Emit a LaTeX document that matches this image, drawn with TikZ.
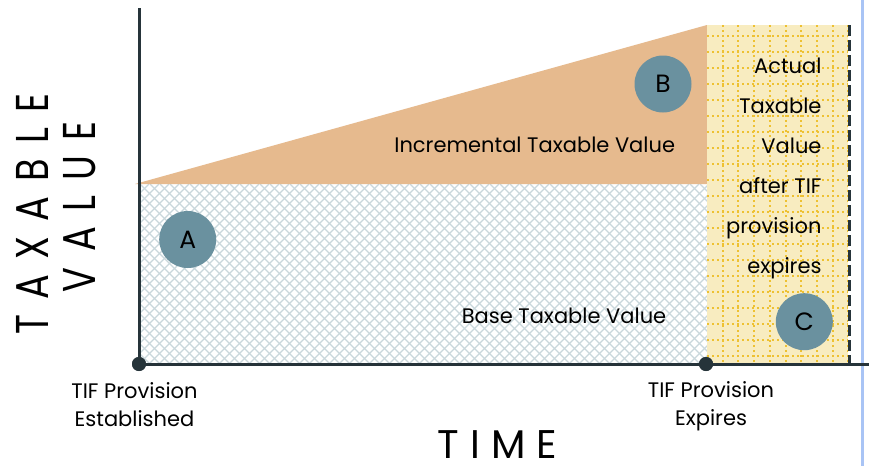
\documentclass[tikz,border=0pt]{standalone}
\usepackage{fontspec}
\setmainfont{Poppins}
\definecolor{axisc}{HTML}{26343A}
\definecolor{orng}{HTML}{E6BA8E}
\definecolor{ylw}{HTML}{F8ECC0}
\definecolor{ylwgrid}{HTML}{EEC132}
\definecolor{circ}{HTML}{6A919F}
\definecolor{hatchc}{HTML}{C9D7DC}
\definecolor{lblue}{HTML}{A9C4F5}
\tikzset{
  axisline/.style={draw=axisc, line width=3pt},
  enddot/.style={circle, fill=axisc, minimum size=14pt, inner sep=0pt},
  badge/.style={circle, fill=circ, minimum size=57pt, inner sep=0pt, font=\fontsize{25}{28}\selectfont},
  hatchline/.style={draw=hatchc, line width=1.3pt},
  gridline/.style={draw=ylwgrid, line width=2pt, dash pattern=on 2pt off 3pt},
  lbl/.style={inner sep=0pt, font=\fontsize{21}{24}\selectfont},
}
\begin{document}
\begin{tikzpicture}[x=1pt,y=-1pt]
\useasboundingbox (0,0) rectangle (871,466);
\fill[white] (0,0) rectangle (871,466);
% base region hatch
\begin{scope}
\clip (139,184) rectangle (707,364);
\foreach \s in {-50,-40,...,710} \draw[hatchline] (\s,184) -- ++(190,190);
\foreach \s in {139,149,...,900} \draw[hatchline] (\s,184) -- ++(-190,190);
\end{scope}
% incremental region
\fill[orng] (135,184) -- (707,25) -- (707,184) -- cycle;
% yellow region
\fill[ylw] (707,25) rectangle (848,364);
\begin{scope}
\clip (707,25) rectangle (848,364);
\foreach \k in {1,...,9} \draw[gridline] (707+15.7*\k,25) -- (707+15.7*\k,364);
\foreach \k in {0,...,20} \draw[gridline] (707,35.7+16*\k) -- (848,35.7+16*\k);
\end{scope}
% coordinates
\coordinate (ytop) at (139,8);
\coordinate (xend) at (869,364);
\coordinate (dtop) at (849.5,25);
\coordinate (dbot) at (849.5,364);
\coordinate (btop) at (862,0);
\coordinate (bbot) at (862,466);
% lines
\draw[lblue, line width=3pt] (btop) -- (bbot);
\draw[axisc, line width=3.5pt, dash pattern=on 11pt off 4pt] (dtop) -- (dbot);
\node[enddot] (o) at (139,364) {};
\node[enddot] (e) at (706,364) {};
\draw[axisline] (ytop) -- (o.center) -- (e.center) -- (xend);
\node[enddot] at (139,364) {};
\node[enddot] at (706,364) {};
% badges
\node[badge] (A) at (187.7,239.5) {A};
\node[badge] (B) at (663,84) {B};
\node[badge] (C) at (804.3,321.7) {C};
% labels
\node[lbl, anchor=base] (inc) at (534.7,152.3) {Incremental Taxable Value};
\node[lbl, anchor=base] (base) at (564,323.3) {Base Taxable Value};
\node[lbl, anchor=base] (est1) at (134.5,398.3) {TIF Provision};
\node[lbl, anchor=base] (est2) at (134.5,426.7) {Established};
\node[lbl, anchor=base] (exp1) at (711,397.3) {TIF Provision};
\node[lbl, anchor=base] (exp2) at (711,425) {Expires};
\node[lbl, anchor=base east] (r1) at (821.7,73.3) {Actual};
\node[lbl, anchor=base east] (r2) at (821.7,113.3) {Taxable};
\node[lbl, anchor=base east] (r3) at (821.7,153.3) {Value};
\node[lbl, anchor=base east] (r4) at (821.7,193.3) {after TIF};
\node[lbl, anchor=base east] (r5) at (821.7,233.3) {provision};
\node[lbl, anchor=base east] (r6) at (821.7,273.3) {expires};
% axis titles
\node[inner sep=0pt, text depth=0pt, anchor=base, font=\fontsize{40}{44}\selectfont] (time) at (497.5,458) {T\hspace{11pt}I\hspace{11pt}M\hspace{11pt}E};
\node[inner sep=0pt, anchor=base, rotate=90, font=\fontsize{46}{50}\selectfont] (tax) at (48,214) {\scalebox{0.8}[1]{T\hspace{19pt}A\hspace{19pt}X\hspace{19pt}A\hspace{19pt}B\hspace{19pt}L\hspace{19pt}E}};
\node[inner sep=0pt, anchor=base, rotate=90, font=\fontsize{46}{50}\selectfont] (val) at (95,207) {\scalebox{0.8}[1]{V\hspace{19pt}A\hspace{19pt}L\hspace{19pt}U\hspace{19pt}E}};
\end{tikzpicture}
\end{document}
